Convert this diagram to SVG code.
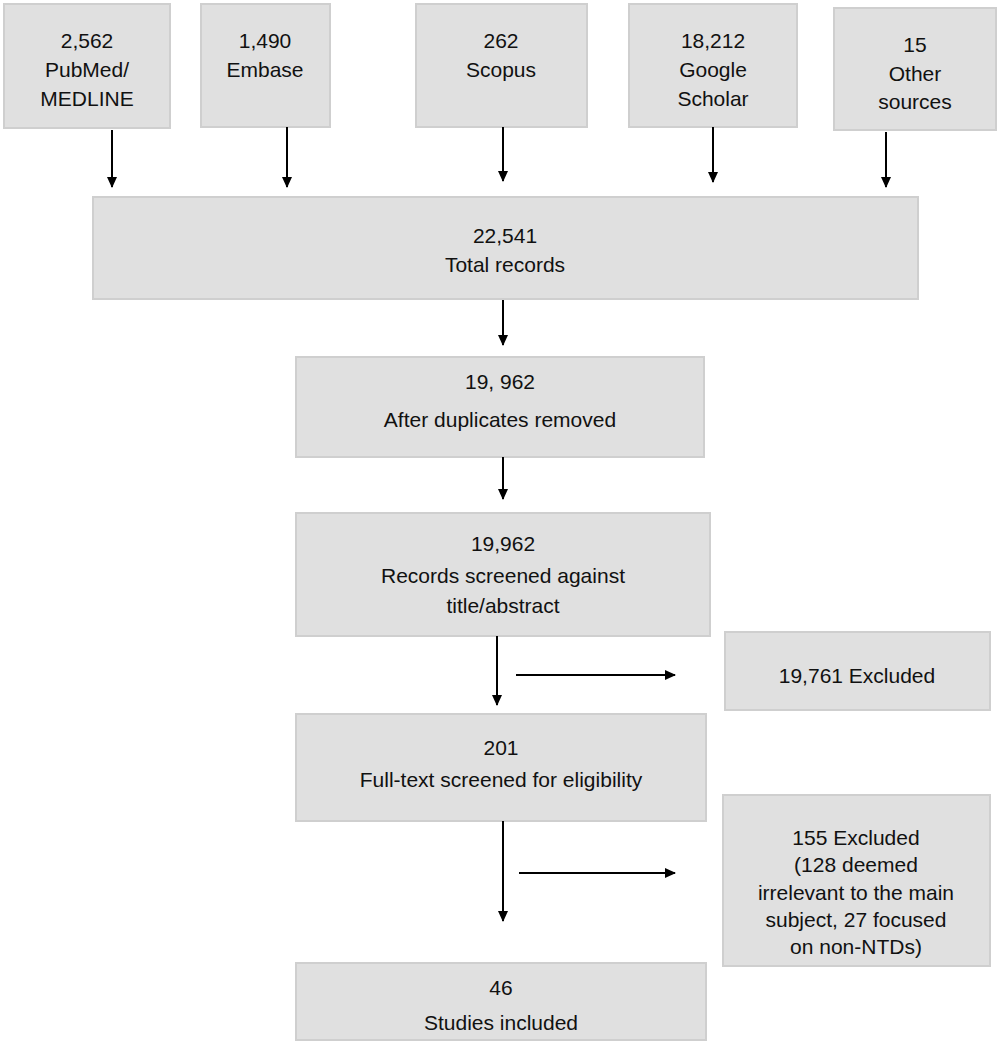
<svg xmlns="http://www.w3.org/2000/svg" width="1000" height="1045" viewBox="0 0 1000 1045">
<style>
.b{fill:#e0e0e0;stroke:#cfcfcf;stroke-width:2}
text{font-family:"Liberation Sans",Arial,sans-serif;font-size:21px;fill:#111;text-anchor:middle}
.c line{stroke:#000;stroke-width:2}
</style>
<defs><marker id="a" markerWidth="12" markerHeight="12" refX="10" refY="5" orient="auto" markerUnits="userSpaceOnUse"><path d="M0,0L11,5L0,10z" fill="#000"/></marker></defs>
<rect width="1000" height="1045" fill="#fff"/>
<g id="n1"><rect class="b" x="4" y="4" width="166" height="124"/><text x="87" y="48">2,562</text><text x="87" y="77">PubMed/</text><text x="87" y="106">MEDLINE</text></g>
<g id="n2"><rect class="b" x="201" y="4" width="129" height="123"/><text x="265" y="48">1,490</text><text x="265" y="77">Embase</text></g>
<g id="n3"><rect class="b" x="416" y="4" width="171" height="123"/><text x="501" y="48">262</text><text x="501" y="77">Scopus</text></g>
<g id="n4"><rect class="b" x="629" y="4" width="168" height="123"/><text x="713" y="48">18,212</text><text x="713" y="77">Google</text><text x="713" y="106">Scholar</text></g>
<g id="n5"><rect class="b" x="834" y="8" width="162" height="122"/><text x="915" y="52">15</text><text x="915" y="81">Other</text><text x="915" y="109">sources</text></g>
<g id="n6"><rect class="b" x="93" y="197" width="825" height="102"/><text x="505" y="243">22,541</text><text x="505" y="272">Total records</text></g>
<g id="n7"><rect class="b" x="296" y="357" width="408" height="100"/><text x="500" y="389">19, 962</text><text x="500" y="427">After duplicates removed</text></g>
<g id="n8"><rect class="b" x="296" y="513" width="414" height="123"/><text x="503" y="551">19,962</text><text x="503" y="583">Records screened against</text><text x="503" y="613">title/abstract</text></g>
<g id="n9"><rect class="b" x="725" y="632" width="265" height="78"/><text x="857" y="683">19,761 Excluded</text></g>
<g id="n10"><rect class="b" x="296" y="714" width="410" height="107"/><text x="501" y="755">201</text><text x="501" y="787">Full-text screened for eligibility</text></g>
<g id="n11"><rect class="b" x="723" y="795" width="267" height="171"/><text x="856" y="845">155 Excluded</text><text x="856" y="872">(128 deemed</text><text x="856" y="900">irrelevant to the main</text><text x="856" y="927">subject, 27 focused</text><text x="856" y="954">on non-NTDs)</text></g>
<g id="n12"><rect class="b" x="296" y="963" width="410" height="77"/><text x="501" y="995">46</text><text x="501" y="1030">Studies included</text></g>
<g class="c" id="connectors">
<line x1="112" y1="130" x2="112" y2="187" marker-end="url(#a)"/>
<line x1="287" y1="127" x2="287" y2="187" marker-end="url(#a)"/>
<line x1="503" y1="127" x2="503" y2="181" marker-end="url(#a)"/>
<line x1="713" y1="127" x2="713" y2="182" marker-end="url(#a)"/>
<line x1="886" y1="132" x2="886" y2="187" marker-end="url(#a)"/>
<line x1="503" y1="300" x2="503" y2="345" marker-end="url(#a)"/>
<line x1="503" y1="457" x2="503" y2="499" marker-end="url(#a)"/>
<line x1="497" y1="636" x2="497" y2="705" marker-end="url(#a)"/>
<line x1="516" y1="675" x2="675" y2="675" marker-end="url(#a)"/>
<line x1="503" y1="821" x2="503" y2="921" marker-end="url(#a)"/>
<line x1="519" y1="873" x2="675" y2="873" marker-end="url(#a)"/>
</g>
</svg>
